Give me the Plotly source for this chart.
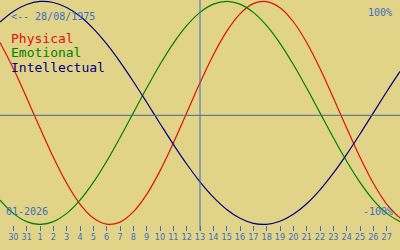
import plotly.graph_objects as go

# Days shown (Dec 29 2025 .. Jan 28 2026)
days = ["2025-12-29", "2025-12-30", "2025-12-31"] + [f"2026-01-{d:02d}" for d in range(1, 29)]

# Biorhythm values (-1 .. 1)
physical = [0.6310, 0.3984, 0.1362, -0.1362, -0.3984, -0.6310, -0.8170, -0.9423, -0.9977, -0.9791,
            -0.8879, -0.7308, -0.5196, -0.2698, 0.0, 0.2698, 0.5196, 0.7308, 0.8879, 0.9791,
            0.9977, 0.9423, 0.8170, 0.6310, 0.3984, 0.1362, -0.1362, -0.3984, -0.6310, -0.8170, -0.9423]
emotional = [-0.7818, -0.9010, -0.9749, -1.0, -0.9749, -0.9010, -0.7818, -0.6235, -0.4339, -0.2225,
             0.0, 0.2225, 0.4339, 0.6235, 0.7818, 0.9010, 0.9749, 1.0, 0.9749, 0.9010,
             0.7818, 0.6235, 0.4339, 0.2225, 0.0, -0.2225, -0.4339, -0.6235, -0.7818, -0.9010, -0.9749]
intellectual = [0.8146, 0.9096, 0.9718, 0.9989, 0.9898, 0.9450, 0.8660, 0.7557, 0.6182, 0.4582,
                0.2817, 0.0951, -0.0951, -0.2817, -0.4582, -0.6182, -0.7557, -0.8660, -0.9450, -0.9898,
                -0.9989, -0.9718, -0.9096, -0.8146, -0.6901, -0.5406, -0.3717, -0.1893, 0.0, 0.1893, 0.3717]

today = "2026-01-13"
tick_dates = days[1:-1]
tick_labels = ["30", "31"] + [str(d) for d in range(1, 28)]

BG = "#e1d387"
BLUE = "#3b6fc4"
RED = "#e01010"
GREEN = "#008000"
NAVY = "#000080"
MONO = "DejaVu Sans Mono"
NARROW = "Liberation Sans Narrow, DejaVu Sans Condensed, DejaVu Sans Mono"

fig = go.Figure()
for name, vals, col in [("Physical", physical, RED), ("Emotional", emotional, GREEN),
                        ("Intellectual", intellectual, NAVY)]:
    fig.add_trace(go.Scatter(x=days, y=vals, mode="lines", name=name,
                             line=dict(color=col, width=1.2, shape="spline"),
                             hoverinfo="skip"))

# Reference lines
fig.add_shape(type="line", xref="paper", yref="paper", x0=0, x1=1, y0=1 - 115.3 / 225, y1=1 - 115.3 / 225,
              line=dict(color="#4a6888", width=1))
fig.add_shape(type="line", xref="x", yref="paper", x0=today, x1=today, y0=-0.026, y1=1,
              line=dict(color=BLUE, width=1))

def ann(text, x, y, xanchor, color, size):
    fig.add_annotation(text=text, xref="paper", yref="paper", x=x, y=y, xanchor=xanchor,
                       yanchor="middle", showarrow=False, borderpad=0,
                       font=dict(family=MONO, size=size, color=color))

ann("&lt;-- 28/08/1975", 10 / 400, 1 - 16.7 / 225, "left", BLUE, 10)
ann("100%", 393 / 400, 1 - 12 / 225, "right", BLUE, 10)
ann("01-2026", 4.5 / 400, 1 - 211.5 / 225, "left", BLUE, 10)
ann("-100%", 394 / 400, 1 - 211.7 / 225, "right", BLUE, 10)
ann("Physical", 10 / 400, 1 - 38.5 / 225, "left", RED, 13)
ann("Emotional", 10 / 400, 1 - 53 / 225, "left", GREEN, 13)
ann("Intellectual", 10 / 400, 1 - 67.7 / 225, "left", NAVY, 13)

fig.update_layout(
    width=400, height=250,
    margin=dict(l=0, r=0, t=0, b=25),
    paper_bgcolor=BG, plot_bgcolor=BG,
    showlegend=False, hovermode=False,
    xaxis=dict(type="date", range=[days[0], days[-1]], showgrid=False, zeroline=False,
               showline=False, tickmode="array", tickvals=tick_dates, ticktext=tick_labels,
               ticks="outside", ticklen=5, tickwidth=1, tickcolor=BLUE, ticklabelstandoff=-2,
               tickfont=dict(family=NARROW, size=9, color=BLUE), tickangle=0),
    yaxis=dict(range=[-1.005, 1.012], visible=False, showgrid=False, zeroline=False),
)

fig.write_html("out.html", config={"displayModeBar": False, "staticPlot": True})
